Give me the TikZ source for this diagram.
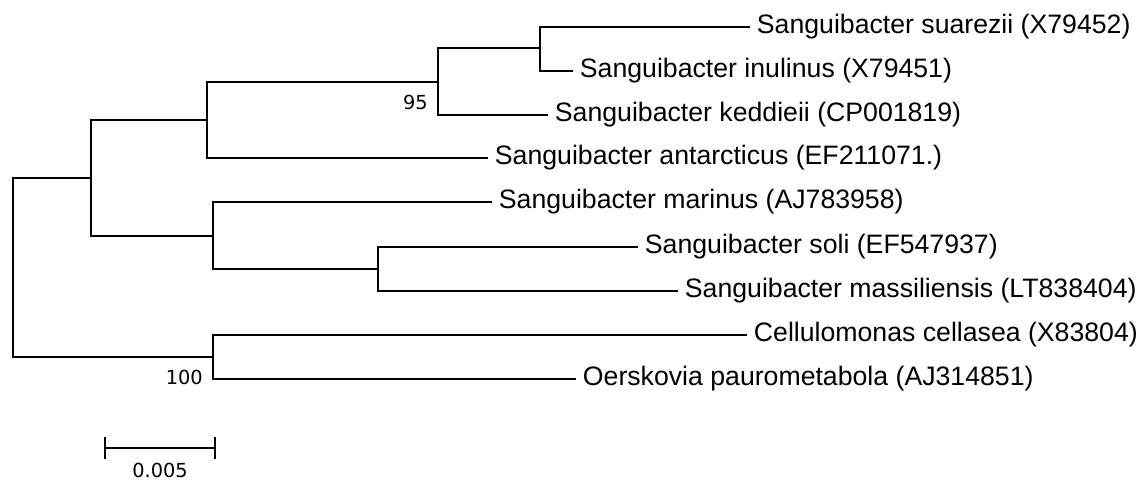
\documentclass[tikz,border=0pt]{standalone}
\usepackage{fontspec}
\setmainfont{Liberation Sans}
\newfontfamily\bootfont{DejaVu Sans}

\begin{document}
\begin{tikzpicture}[x=0.75pt,y=0.75pt,yscale=-1,xscale=1,
    branch/.style={line width=1.6pt},
    taxon/.style={anchor=west,inner xsep=5pt,inner ysep=0.75pt,font=\fontsize{20}{22}\selectfont},
    boot/.style={inner sep=0.75pt,font=\bootfont\fontsize{14.5}{16}\selectfont}]
    \useasboundingbox (0,0) rectangle (1148,480);
    % internal nodes of the tree
    \coordinate (root) at (13,267);
    \coordinate (A) at (91,178);
    \coordinate (B) at (207,120);
    \coordinate (C) at (438,82);
    \coordinate (D) at (540,48);
    \coordinate (E) at (213,236);
    \coordinate (F) at (378,269);
    \coordinate (G) at (213,357);
    % leaf tips
    \coordinate (suarezii) at (750,27);
    \coordinate (inulinus) at (573,71);
    \coordinate (keddieii) at (548,115);
    \coordinate (antarcticus) at (488,158);
    \coordinate (marinus) at (492,202);
    \coordinate (soli) at (638,247);
    \coordinate (massiliensis) at (678,291);
    \coordinate (cellasea) at (747,335);
    \coordinate (oerskovia) at (576,379);
    % taxa
    \node[taxon] (t-suarezii) at (suarezii) {Sanguibacter suarezii (X79452)};
    \node[taxon] (t-inulinus) at (inulinus) {Sanguibacter inulinus (X79451)};
    \node[taxon] (t-keddieii) at (keddieii) {Sanguibacter keddieii (CP001819)};
    \node[taxon] (t-antarcticus) at (antarcticus) {Sanguibacter antarcticus (EF211071.)};
    \node[taxon] (t-marinus) at (marinus) {Sanguibacter marinus (AJ783958)};
    \node[taxon] (t-soli) at (soli) {Sanguibacter soli (EF547937)};
    \node[taxon] (t-massiliensis) at (massiliensis) {Sanguibacter massiliensis (LT838404)};
    \node[taxon] (t-cellasea) at (cellasea) {Cellulomonas cellasea (X83804)};
    \node[taxon] (t-oerskovia) at (oerskovia) {Oerskovia paurometabola (AJ314851)};
    % branches
    \draw[branch] (root) |- (A);
    \draw[branch] (root) |- (G);
    \draw[branch] (A) |- (B);
    \draw[branch] (A) |- (E);
    \draw[branch] (B) |- (C);
    \draw[branch] (B) |- (antarcticus);
    \draw[branch] (C) |- (D);
    \draw[branch] (C) |- (keddieii);
    \draw[branch] (D) |- (suarezii);
    \draw[branch] (D) |- (inulinus);
    \draw[branch] (E) |- (marinus);
    \draw[branch] (E) |- (F);
    \draw[branch] (F) |- (soli);
    \draw[branch] (F) |- (massiliensis);
    \draw[branch] (G) |- (cellasea);
    \draw[branch] (G) |- (oerskovia);
    % bootstrap values
    \node[boot,anchor=east] (b95) at (429,102) {95};
    \node[boot,anchor=east] (b100) at (204,377) {100};
    % scale bar
    \coordinate (sb-l) at (105,448);
    \coordinate (sb-r) at (215,448);
    \draw[branch] (sb-l) -- (sb-r);
    \draw[branch] ([yshift=-8]sb-l) -- ([yshift=8]sb-l);
    \draw[branch] ([yshift=-8]sb-r) -- ([yshift=8]sb-r);
    \node[boot] (sb-label) at (160,470) {0.005};
\end{tikzpicture}
\end{document}
